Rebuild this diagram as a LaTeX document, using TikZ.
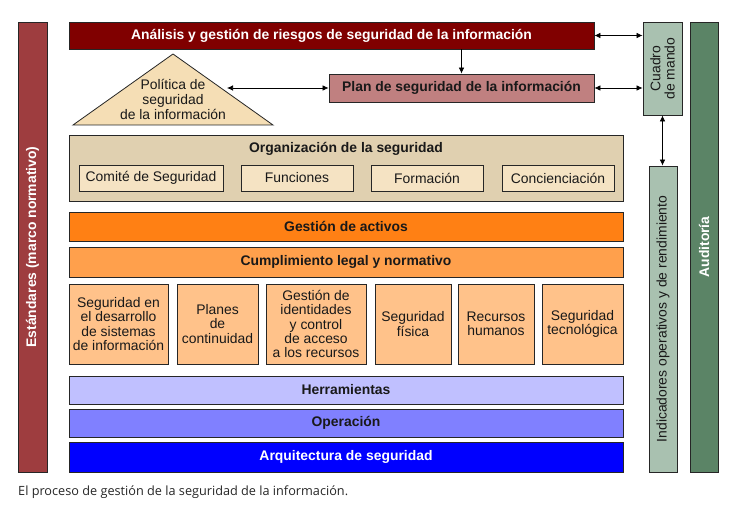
\documentclass[tikz,border=0pt]{standalone}
\usepackage{fontspec}
\setmainfont{Liberation Sans}
\newfontfamily\captionfont{Open Sans}
\usetikzlibrary{arrows.meta}

\definecolor{riskred}{HTML}{800000}
\definecolor{stdred}{HTML}{9E3D3F}
\definecolor{planrose}{HTML}{C08080}
\definecolor{polwheat}{HTML}{F5DEB5}
\definecolor{orgtan}{HTML}{E0D0B0}
\definecolor{orgsub}{HTML}{F5E3C3}
\definecolor{actorange}{HTML}{FF8014}
\definecolor{legorange}{HTML}{FFA04C}
\definecolor{areapeach}{HTML}{FFC28A}
\definecolor{toolblue}{HTML}{C0C0FF}
\definecolor{opblue}{HTML}{8080FF}
\definecolor{archblue}{HTML}{0000FF}
\definecolor{cmdgreen}{HTML}{A9C1B0}
\definecolor{audgreen}{HTML}{5B8466}

\tikzset{
  box/.style={draw=black!85, line width=0.8pt, inner sep=1pt, align=center,
              text=black!90, font=\fontsize{13.9}{14.4}\selectfont},
  boldbox/.style={box, font=\fontsize{13.9}{14.4}\selectfont\bfseries},
  dims/.style 2 args={minimum width=#1pt, minimum height=#2pt},
  dbl/.style={{Latex[length=6pt,width=5.5pt]}-{Latex[length=6pt,width=5.5pt]}, line width=0.7pt},
  one/.style={-{Latex[length=6pt,width=5.5pt]}, line width=0.7pt},
}

\begin{document}
\begin{tikzpicture}[x=1pt,y=-1pt]
\useasboundingbox (0,0) rectangle (756,510);

%% side bars
\node[boldbox, fill=stdred, text=white, rotate=90, dims={450}{29}] (std) at (32.5,247) {Estándares (marco normativo)};
\node[boldbox, fill=audgreen, text=white, rotate=90, dims={450}{28}] (aud) at (704,247) {Auditoría};
\node[box, fill=cmdgreen, rotate=90, dims={93}{39}] (cmd) at (662.5,68.5) {Cuadro\\de mando};
\node[box, fill=cmdgreen, rotate=90, dims={306}{28}] (ind) at (663,319) {Indicadores operativos y de rendimiento};

%% risks, policy and plan
\node[boldbox, fill=riskred, text=white, dims={525}{27}] (risk) at (331.5,35.5) {Análisis y gestión de riesgos de seguridad de la información};
\node[boldbox, fill=planrose, dims={265}{28}] (plan) at (461.5,88) {Plan de seguridad de la información};
\draw[draw=black!85, line width=0.8pt, fill=polwheat] (73,125) -- (173,54) -- (273,125) -- cycle;
\node[align=center, inner sep=0pt, text=black!90, font=\fontsize{13.9}{15}\selectfont] (pol) at (173,99) {Política de\\seguridad\\de la información};
\coordinate (polend) at (227,88);

%% organization
\node[box, fill=orgtan, dims={554}{66}] (org) at (346,168) {};
\node[font=\fontsize{13.9}{14.4}\selectfont\bfseries, text=black!90] (orgtitle) at (346,149) {Organización de la seguridad};
\node[box, fill=orgsub, dims={144}{26}] (comite) at (151,178) {Comité de Seguridad};
\node[box, fill=orgsub, dims={112}{26}] (func) at (297,178) {Funciones};
\node[box, fill=orgsub, dims={112}{26}] (form) at (427,178) {Formación};
\node[box, fill=orgsub, dims={112}{26}] (conc) at (558,178) {Concienciación};

%% assets and compliance
\node[boldbox, fill=actorange, dims={554}{29}] (activos) at (346,226.5) {Gestión de activos};
\node[boldbox, fill=legorange, dims={554}{30}] (legal) at (346,262) {Cumplimiento legal y normativo};

%% areas
\node[box, fill=areapeach, dims={99}{80}] (desa) at (118.5,324) {Seguridad en\\el desarrollo\\de sistemas\\de información};
\node[box, fill=areapeach, dims={81}{80}] (cont) at (217.5,324) {Planes\\de\\continuidad};
\node[box, fill=areapeach, dims={100}{80}] (ident) at (316,324) {Gestión de\\identidades\\y control\\de acceso\\a los recursos};
\node[box, fill=areapeach, dims={76}{80}] (fis) at (413,324) {Seguridad\\física};
\node[box, fill=areapeach, dims={76}{80}] (rrhh) at (496,324) {Recursos\\humanos};
\node[box, fill=areapeach, dims={81}{80}] (tec) at (582.5,324) {Seguridad\\tecnológica};

%% tools, operation, architecture
\node[boldbox, fill=toolblue, dims={554}{28}] (herr) at (346,390) {Herramientas};
\node[boldbox, fill=opblue, dims={554}{28}] (oper) at (346,423) {Operación};
\node[boldbox, fill=archblue, text=white, dims={554}{30}] (arq) at (346,457) {Arquitectura de seguridad};

%% caption
\node[anchor=west, inner sep=0pt, text=black!85, font=\captionfont\fontsize{12.7}{14}\selectfont] (caption) at (18,492) {El proceso de gestión de la seguridad de la información.};

%% arrows
\draw[one] (risk.south -| plan) -- (plan.north);            %% risk -> plan
\draw[dbl] (polend) -- (plan.west);                         %% policy <-> plan
\draw[dbl] (risk.east) -- (risk.east -| cmd.north);         %% risk <-> cuadro
\draw[dbl] (plan.east) -- (plan.east -| cmd.north);         %% plan <-> cuadro
\draw[dbl] (cmd.west) -- (cmd.west |- ind.east);            %% cuadro <-> indicadores
\end{tikzpicture}
\end{document}
